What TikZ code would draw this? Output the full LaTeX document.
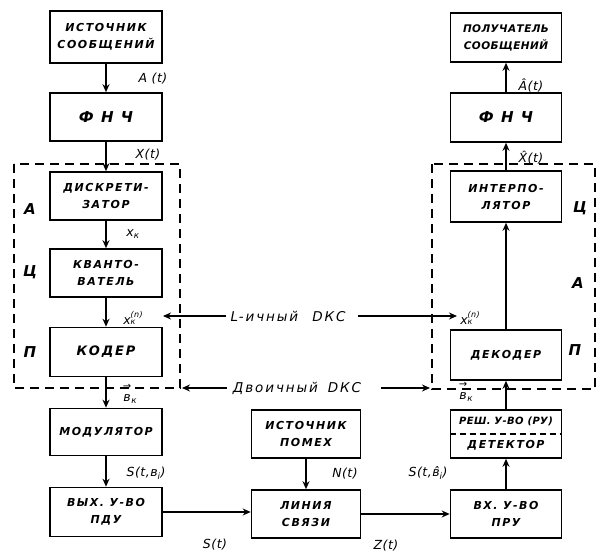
\documentclass[tikz,border=0pt]{standalone}
\usepackage{fontspec}
\setmainfont{DejaVu Sans}
\newfontfamily\hand{DejaVu Sans}[LetterSpace=14]
\newfontfamily\handn{DejaVu Sans}[LetterSpace=4]
\usetikzlibrary{arrows.meta}
\newcommand\vecv{\shortstack{{\fontsize{10}{7}\selectfont →}\\[2pt]в}}
\newcommand\xkn{x\shortstack[l]{{\fontsize{8}{8}\selectfont (n)}\\[-1pt]{\fontsize{8}{8}\selectfont к}}}
\tikzset{
  box/.style={draw, line width=1.6pt, minimum width=112pt, minimum height=48pt, inner sep=0pt, align=center, font=\hand\bfseries\itshape\fontsize{11}{17}\selectfont},
  con/.style={line width=1.4pt, -{Stealth[length=8pt,width=7pt]}},
  dbox/.style={draw, line width=1.4pt, dash pattern=on 9pt off 6pt},
  lab/.style={font=\handn\itshape\fontsize{12.5}{14}\selectfont, inner sep=1pt},
  side/.style={font=\itshape\bfseries\fontsize{15}{16}\selectfont, inner sep=0pt},
  dkct/.style={font=\hand\itshape\fontsize{13.5}{15}\selectfont, inner sep=2pt}
}
\begin{document}
\begin{tikzpicture}[x=1pt,y=-1pt]
\useasboundingbox[fill=white] (0,0) rectangle (600,553);
% dashed frames
\draw[dbox] (14,164) rectangle (180,388);
\draw[dbox] (432,164) rectangle (595,389);
% left column
\node[box, minimum height=52pt] (src) at (106,37) {ИСТОЧНИК\\СООБЩЕНИЙ};
\node[box, font=\hand\bfseries\itshape\fontsize{15}{17}\selectfont] (fnc1) at (106,117) {Ф Н Ч};
\node[box] (disc) at (106,196) {ДИСКРЕТИ-\\ЗАТОР};
\node[box] (kvant) at (106,273) {КВАНТО-\\ВАТЕЛЬ};
\node[box, minimum height=49pt, font=\hand\bfseries\itshape\fontsize{13}{17}\selectfont] (coder) at (106,352) {КОДЕР};
\node[box, minimum height=47pt] (mod) at (106,432) {МОДУЛЯТОР};
\node[box, minimum height=49pt] (pdu) at (106,512) {ВЫХ. У-ВО\\ПДУ};
% middle column
\node[box, minimum width=109pt] (pom) at (306,434) {ИСТОЧНИК\\ПОМЕХ};
\node[box, minimum width=109pt] (line) at (306,514) {ЛИНИЯ\\СВЯЗИ};
% right column
\node[box, minimum width=111pt, minimum height=49pt, font=\handn\bfseries\itshape\fontsize{10.5}{17}\selectfont] (rcv) at (506,37.5) {ПОЛУЧАТЕЛЬ\\СООБЩЕНИЙ};
\node[box, minimum width=111pt, minimum height=49pt, font=\hand\bfseries\itshape\fontsize{15}{17}\selectfont] (fnc2) at (506,117.5) {Ф Н Ч};
\node[box, minimum width=111pt, minimum height=51pt] (interp) at (506,196.5) {ИНТЕРПО-\\ЛЯТОР};
\node[box, minimum width=111pt, minimum height=50pt] (dec) at (506,355) {ДЕКОДЕР};
\node[box, minimum width=111pt, font=\handn\bfseries\itshape\fontsize{10}{24}\selectfont] (det) at (506,434) {РЕШ. У-ВО (РУ)\\{\hand\fontsize{11}{12}\selectfont ДЕТЕКТОР}};
\draw[line width=1.3pt, dash pattern=on 6pt off 4pt] (det.west) -- (det.east);
\node[box, minimum width=111pt] (pru) at (506,514) {ВХ. У-ВО\\ПРУ};
% connectors
\draw[con] (src) -- (fnc1);
\draw[con] (fnc1) -- (disc);
\draw[con] (disc) -- (kvant);
\draw[con] (kvant) -- (coder);
\draw[con] (coder) -- (mod);
\draw[con] (mod) -- (pdu);
\draw[con] (pdu.east) -- (pdu.east -| line.west);
\draw[con] (pom) -- (line);
\draw[con] (line.east) -- (line.east -| pru.west);
\draw[con] (pru) -- (det);
\draw[con] (det) -- (dec);
\draw[con] (dec) -- (interp);
\draw[con] (interp) -- (fnc2);
\draw[con] (fnc2) -- (rcv);
% DKC
\node[dkct] (lkc) at (288,316) {L-ичный\hspace{14pt}DКС};
\node[dkct] (dkc) at (297,388) {Двоичный\hspace{10pt}DКС};
\coordinate (lkcL) at (163,316);
\coordinate (lkcR) at (457,316);
\coordinate (dkcL) at (182,388);
\coordinate (dkcR) at (430,388);
\draw[con, line width=1.2pt] ([xshift=-2pt]lkc.west) -- (lkcL);
\draw[con, line width=1.2pt] ([xshift=10pt]lkc.east) -- (lkcR);
\draw[con, line width=1.2pt] ([xshift=-4pt]dkc.west) -- (dkcL);
\draw[con, line width=1.2pt] ([xshift=18pt]dkc.east) -- (dkcR);
% signal labels
\node[lab] (lA) at (153,79) {A (t)};
\node[lab] (lX) at (148,155) {X(t)};
\node[lab] (lxk) at (133,234) {x\textsubscript{к}};
\node[lab] (lxn) at (133,318) {\xkn};
\node[lab] (lvk) at (130,394) {\vecv\textsubscript{к}};
\node[lab] (lS1) at (146,473) {S(t,в\textsubscript{i})};
\node[lab] (lS) at (215,545) {S(t)};
\node[lab] (lN) at (345,474) {N(t)};
\node[lab] (lZ) at (386,546) {Z(t)};
\node[lab] (lS2) at (428,473) {S(t,в̂\textsubscript{i})};
\node[lab] (lAh) at (531,86) {Â(t)};
\node[lab] (lXh) at (531,158) {X̂(t)};
\node[lab] (lxn2) at (470,318) {\xkn};
\node[lab] (lvk2) at (466,392) {\vecv\textsubscript{к}};
% side letters
\node[side] (sA1) at (30,209) {А};
\node[side] (sC1) at (30,272) {Ц};
\node[side] (sP1) at (30,352) {П};
\node[side] (sC2) at (580,208) {Ц};
\node[side] (sA2) at (578,283) {А};
\node[side] (sP2) at (575,350) {П};
\end{tikzpicture}
\end{document}
